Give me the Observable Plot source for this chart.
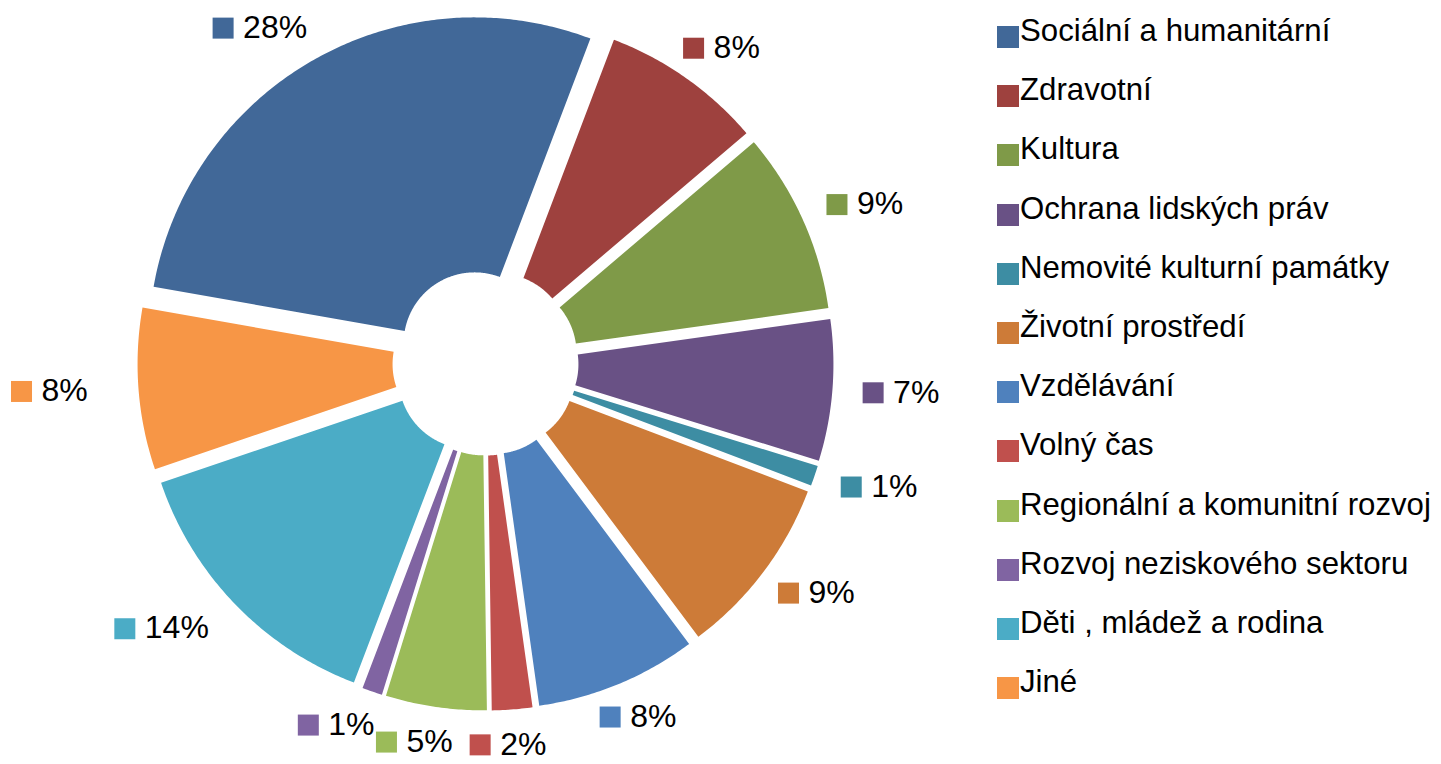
<!DOCTYPE html>
<html>
<head>
<meta charset="utf-8">
<script src="https://cdn.jsdelivr.net/npm/d3@7"></script>
<script src="https://cdn.jsdelivr.net/npm/@observablehq/plot@0.6"></script>
<style>
  body { margin: 0; background: #fff; font-family: "Liberation Sans", Arial, sans-serif; }
  #wrap { position: relative; width: 1441px; height: 764px; overflow: hidden; background: #fff; }
  #chart { position: absolute; left: 0; top: 0; }
  #legend { position: absolute; left: 997px; top: 0; width: 444px; height: 764px; }
  .item { position: absolute; left: 0; height: 22px; display: flex; align-items: center; white-space: nowrap; font-size: 31.2px; color: #000; }
  .sw { width: 22px; height: 22px; flex: none; margin-right: 1px; }
  .tx { position: relative; top: -6px; }
</style>
</head>
<body>
<div id="wrap"><div id="chart"></div><div id="legend"></div></div>
<script>
// ---- data ----
const categories = [
  "Sociální a humanitární", "Zdravotní", "Kultura", "Ochrana lidských práv",
  "Nemovité kulturní památky", "Životní prostředí", "Vzdělávání", "Volný čas",
  "Regionální a komunitní rozvoj", "Rozvoj neziskového sektoru", "Děti , mládež a rodina", "Jiné"
];
const shares = [28, 8, 9, 7, 1, 9, 8, 2, 5, 1, 14, 8];
const shareLabels = ["28%", "8%", "9%", "7%", "1%", "9%", "8%", "2%", "5%", "1%", "14%", "8%"];
const colors = [
  "#416898", "#9E413E", "#7F9A48", "#695185", "#3D8DA3", "#CD7B38",
  "#4F81BD", "#C0504D", "#9BBB59", "#8064A2", "#4BACC6", "#F79646"
];

// ---- layout ----
const W = 990, H = 764, CX = 485, CY = 362;
const R_OUT = 326, R_IN = 71, EXPLODE = 22, START = -80;
const LABEL_RX = 389, LABEL_RY = 371, LABEL_DX = -10;
const LABEL_FS = 32, SW = 21, GAP = 9, BOX_H = 26;
const LEG_Y0 = 37, LEG_STEP = 59.2;

const rad = d => d * Math.PI / 180;
const total = d3.sum(shares);
let acc = 0;
const slices = categories.map((cat, i) => {
  const a0 = START + acc / total * 360;
  acc += shares[i];
  const a1 = START + acc / total * 360;
  return {cat, a0, a1, mid: (a0 + a1) / 2, label: shareLabels[i]};
});

// slice outlines (exploded donut)
const pts = [];
for (const s of slices) {
  const ox = EXPLODE * Math.sin(rad(s.mid)), oy = -EXPLODE * Math.cos(rad(s.mid));
  const n = Math.max(2, Math.ceil((s.a1 - s.a0) / 0.5));
  for (let k = 0; k <= n; k++) {
    const a = rad(s.a0 + (s.a1 - s.a0) * k / n);
    pts.push({cat: s.cat, x: ox + R_OUT * Math.sin(a), y: oy - R_OUT * Math.cos(a)});
  }
  for (let k = n; k >= 0; k--) {
    const a = rad(s.a0 + (s.a1 - s.a0) * k / n);
    pts.push({cat: s.cat, x: ox + R_IN * Math.sin(a), y: oy - R_IN * Math.cos(a)});
  }
}

// data labels placed outside each slice
const ctx = document.createElement("canvas").getContext("2d");
ctx.font = `${LABEL_FS}px "Liberation Sans", Arial, sans-serif`;
const labelData = slices.map(s => {
  const tw = ctx.measureText(s.label).width;
  const w = SW + GAP + tw;
  const sn = Math.sin(rad(s.mid)), cs = Math.cos(rad(s.mid));
  const cx = LABEL_DX + (LABEL_RX + w / 2) * sn;
  const cy = -(LABEL_RY + BOX_H / 2) * cs;
  const left = cx - w / 2;
  return {
    cat: s.cat, label: s.label,
    x1: left, x2: left + SW, y1: cy - SW / 2, y2: cy + SW / 2,
    tx: left + SW + GAP, ty: cy - 1
  };
});

const chart = Plot.plot({
  width: W, height: H, margin: 0,
  x: {domain: [-CX, W - CX], range: [0, W], axis: null},
  y: {domain: [-CY, H - CY], range: [0, H], axis: null},
  color: {domain: categories, range: colors},
  style: {background: "white", fontFamily: '"Liberation Sans", Arial, sans-serif'},
  marks: [
    Plot.line(pts, {x: "x", y: "y", z: "cat", fill: "cat", stroke: "none", curve: "linear-closed"}),
    Plot.rect(labelData, {x1: "x1", x2: "x2", y1: "y1", y2: "y2", fill: "cat"}),
    Plot.text(labelData, {x: "tx", y: "ty", text: "label", textAnchor: "start", fontSize: LABEL_FS, fill: "#000"})
  ]
});
document.getElementById("chart").appendChild(chart);

// legend
const leg = d3.select("#legend");
categories.forEach((c, i) => {
  const row = leg.append("div").attr("class", "item")
    .style("top", (LEG_Y0 + i * LEG_STEP - 11) + "px");
  row.append("div").attr("class", "sw").style("background", colors[i]);
  row.append("span").attr("class", "tx").text(c);
});
</script>
</body>
</html>
